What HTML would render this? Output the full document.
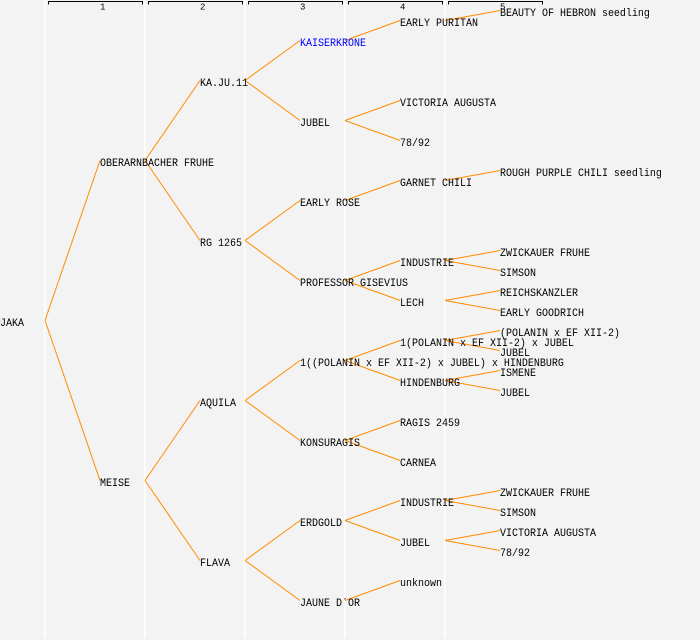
<!DOCTYPE html>
<html>
<head>
<meta charset="utf-8">
<style>
html,body{margin:0;padding:0;background:#f3f3f3;}
svg{display:block;}
text{font-family:"Liberation Mono",monospace;font-size:10px;fill:#000;}
.n{font-size:9px;}
</style>
</head>
<body>
<svg width="700" height="640" viewBox="0 0 700 640" xmlns="http://www.w3.org/2000/svg">
<rect x="0" y="0" width="700" height="640" fill="#f3f3f3"/>
<g fill="#ffffff">
<rect x="44" y="0" width="1.5" height="638"/>
<rect x="144" y="0" width="1.5" height="638"/>
<rect x="244" y="0" width="1.5" height="638"/>
<rect x="344" y="0" width="1.5" height="638"/>
<rect x="444" y="0" width="1.5" height="638"/>
</g>
<g stroke="#000" stroke-width="1" fill="none" shape-rendering="crispEdges">
<path d="M48.5 4.5 V1.5 H142.5 V4.5"/>
<path d="M148.5 4.5 V1.5 H242.5 V4.5"/>
<path d="M248.5 4.5 V1.5 H342.5 V4.5"/>
<path d="M348.5 4.5 V1.5 H442.5 V4.5"/>
<path d="M448.5 4.5 V1.5 H542.5 V4.5"/>
</g>
<text class="n" x="100" y="9.5">1</text>
<text class="n" x="200" y="9.5">2</text>
<text class="n" x="300" y="9.5">3</text>
<text class="n" x="400" y="9.5">4</text>
<text class="n" x="500" y="9.5">5</text>

<g stroke="#ff8c00" stroke-width="1" fill="none">
<path d="M45 320.5 L100 160.5 M45 320.5 L100 480.5"/>
<path d="M145 160.5 L200 80.5 M145 160.5 L200 240.5"/>
<path d="M145 480.5 L200 400.5 M145 480.5 L200 560.5"/>
<path d="M245 80.5 L300 40.5 M245 80.5 L300 120.5"/>
<path d="M245 240.5 L300 200.5 M245 240.5 L300 280.5"/>
<path d="M245 400.5 L300 360.5 M245 400.5 L300 440.5"/>
<path d="M245 560.5 L300 520.5 M245 560.5 L300 600.5"/>
<path d="M345 40.5 L400 20.5"/>
<path d="M345 120.5 L400 100.5 M345 120.5 L400 140.5"/>
<path d="M345 200.5 L400 180.5"/>
<path d="M345 280.5 L400 260.5 M345 280.5 L400 300.5"/>
<path d="M345 360.5 L400 340.5 M345 360.5 L400 380.5"/>
<path d="M345 440.5 L400 420.5 M345 440.5 L400 460.5"/>
<path d="M345 520.5 L400 500.5 M345 520.5 L400 540.5"/>
<path d="M345 600.5 L400 580.5"/>
<path d="M445 20.5 L500 10.5"/>
<path d="M445 180.5 L500 170.5"/>
<path d="M445 260.5 L500 250.5 M445 260.5 L500 270.5"/>
<path d="M445 300.5 L500 290.5 M445 300.5 L500 310.5"/>
<path d="M445 340.5 L500 330.5 M445 340.5 L500 350.5"/>
<path d="M445 380.5 L500 370.5 M445 380.5 L500 390.5"/>
<path d="M445 500.5 L500 490.5 M445 500.5 L500 510.5"/>
<path d="M445 540.5 L500 530.5 M445 540.5 L500 550.5"/>
<path d="M-10 321 L0.5 321"/>
</g>

<g>
<text transform="translate(0,326) scale(1,1.12)">JAKA</text>

<text transform="translate(100,166) scale(1,1.12)">OBERARNBACHER FRUHE</text>
<text transform="translate(100,486) scale(1,1.12)">MEISE</text>

<text transform="translate(200,86) scale(1,1.12)">KA.JU.11</text>
<text transform="translate(200,246) scale(1,1.12)">RG 1265</text>
<text transform="translate(200,406) scale(1,1.12)">AQUILA</text>
<text transform="translate(200,566) scale(1,1.12)">FLAVA</text>

<text transform="translate(300,46) scale(1,1.12)" style="fill:#0000ff">KAISERKRONE</text>
<text transform="translate(300,126) scale(1,1.12)">JUBEL</text>
<text transform="translate(300,206) scale(1,1.12)">EARLY ROSE</text>
<text transform="translate(300,286) scale(1,1.12)">PROFESSOR GISEVIUS</text>
<text transform="translate(300,366) scale(1,1.12)">1((POLANIN x EF XII-2) x JUBEL) x HINDENBURG</text>
<text transform="translate(300,446) scale(1,1.12)">KONSURAGIS</text>
<text transform="translate(300,526) scale(1,1.12)">ERDGOLD</text>
<text transform="translate(300,606) scale(1,1.12)">JAUNE D´OR</text>

<text transform="translate(400,26) scale(1,1.12)">EARLY PURITAN</text>
<text transform="translate(400,106) scale(1,1.12)">VICTORIA AUGUSTA</text>
<text transform="translate(400,146) scale(1,1.12)">78/92</text>
<text transform="translate(400,186) scale(1,1.12)">GARNET CHILI</text>
<text transform="translate(400,266) scale(1,1.12)">INDUSTRIE</text>
<text transform="translate(400,306) scale(1,1.12)">LECH</text>
<text transform="translate(400,346) scale(1,1.12)">1(POLANIN x EF XII-2) x JUBEL</text>
<text transform="translate(400,386) scale(1,1.12)">HINDENBURG</text>
<text transform="translate(400,426) scale(1,1.12)">RAGIS 2459</text>
<text transform="translate(400,466) scale(1,1.12)">CARNEA</text>
<text transform="translate(400,506) scale(1,1.12)">INDUSTRIE</text>
<text transform="translate(400,546) scale(1,1.12)">JUBEL</text>
<text transform="translate(400,586) scale(1,1.12)">unknown</text>

<text transform="translate(500,16) scale(1,1.12)">BEAUTY OF HEBRON seedling</text>
<text transform="translate(500,176) scale(1,1.12)">ROUGH PURPLE CHILI seedling</text>
<text transform="translate(500,256) scale(1,1.12)">ZWICKAUER FRUHE</text>
<text transform="translate(500,276) scale(1,1.12)">SIMSON</text>
<text transform="translate(500,296) scale(1,1.12)">REICHSKANZLER</text>
<text transform="translate(500,316) scale(1,1.12)">EARLY GOODRICH</text>
<text transform="translate(500,336) scale(1,1.12)">(POLANIN x EF XII-2)</text>
<text transform="translate(500,356) scale(1,1.12)">JUBEL</text>
<text transform="translate(500,376) scale(1,1.12)">ISMENE</text>
<text transform="translate(500,396) scale(1,1.12)">JUBEL</text>
<text transform="translate(500,496) scale(1,1.12)">ZWICKAUER FRUHE</text>
<text transform="translate(500,516) scale(1,1.12)">SIMSON</text>
<text transform="translate(500,536) scale(1,1.12)">VICTORIA AUGUSTA</text>
<text transform="translate(500,556) scale(1,1.12)">78/92</text>
</g>
</svg>
</body>
</html>
